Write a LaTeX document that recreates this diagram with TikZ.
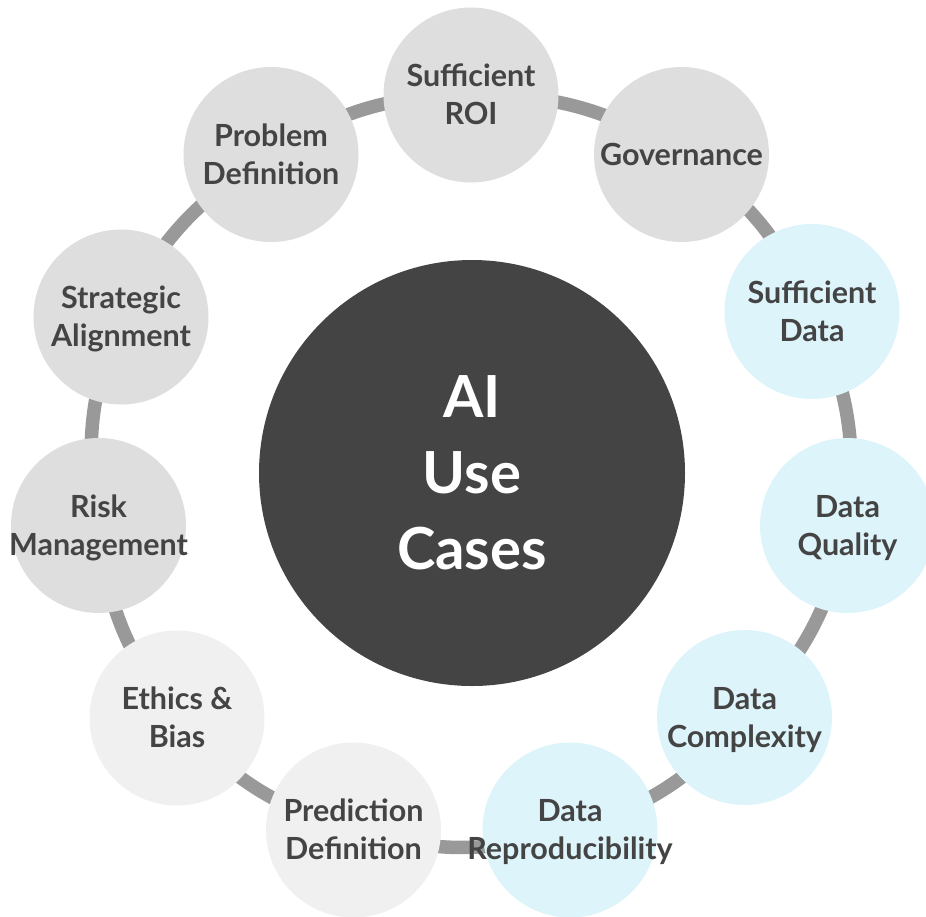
\documentclass[tikz,border=0pt]{standalone}
\usepackage{fontspec}
\setmainfont{Lato}
\usetikzlibrary{backgrounds}
\definecolor{grayfill}{HTML}{DEDEDE}
\definecolor{lightfill}{HTML}{F0F0F0}
\definecolor{cyanfill}{HTML}{DDF4FA}
\definecolor{linkcol}{HTML}{999999}
\definecolor{darkfill}{HTML}{444444}
\definecolor{txtcol}{HTML}{444444}
\newcommand\txtstack[1]{\makebox[0pt]{\raisebox{0pt}[\dimexpr\height+6pt\relax][\depth]{\begin{tabular}{@{}c@{}}#1\end{tabular}}}}
\begin{document}
\begin{tikzpicture}[x=1pt,y=1pt,
  item/.style={circle, minimum size=175pt, inner sep=0pt,
    font=\fontsize{30.5}{38}\selectfont\bfseries, text=txtcol},
  itemgray/.style={item, fill=grayfill},
  itemlight/.style={item, fill=lightfill},
  itemcyan/.style={item, fill=cyanfill},
  hub/.style={circle, minimum size=426pt, inner sep=0pt, align=center, fill=darkfill,
    font=\fontsize{58}{76}\selectfont\bfseries, text=white},
  link/.style={draw=linkcol, line width=13.5pt}
]
\useasboundingbox (0,-916) rectangle (926,0);
\node[hub] (hub) at (472,-473) {AI\\Use\\Cases};
\node[itemgray]  (n0)  at (471,-95)    {\txtstack{Sufficient\\ROI}};
\node[itemgray]  (n1)  at (681.5,-154.5) {\txtstack{Governance}};
\node[itemcyan]  (n2)  at (812,-311.5) {\txtstack{Sufficient\\Data}};
\node[itemcyan]  (n3)  at (847.5,-525.5) {\txtstack{Data\\Quality}};
\node[itemcyan]  (n4)  at (744.5,-717.5) {\txtstack{Data\\Complexity}};
\node[itemcyan]  (n5)  at (570,-830)   {\txtstack{Data\\Reproducibility}};
\node[itemlight] (n6)  at (353.5,-830) {\txtstack{Prediction\\Definition}};
\node[itemlight] (n7)  at (177,-718)   {\txtstack{Ethics \&\\Bias}};
\node[itemgray]  (n8)  at (98.5,-525.5) {\txtstack{Risk\\Management}};
\node[itemgray]  (n9)  at (121,-317)   {\txtstack{Strategic\\Alignment}};
\node[itemgray]  (n10) at (271,-154.5) {\txtstack{Problem\\Definition}};
\begin{scope}[on background layer]
\foreach \a/\b in {0/1,1/2,2/3,3/4,4/5,5/6,6/7,7/8,8/9,9/10,10/0}
  \draw[link] (n\a.center) to[bend left=16] (n\b.center);
\end{scope}
\end{tikzpicture}
\end{document}
